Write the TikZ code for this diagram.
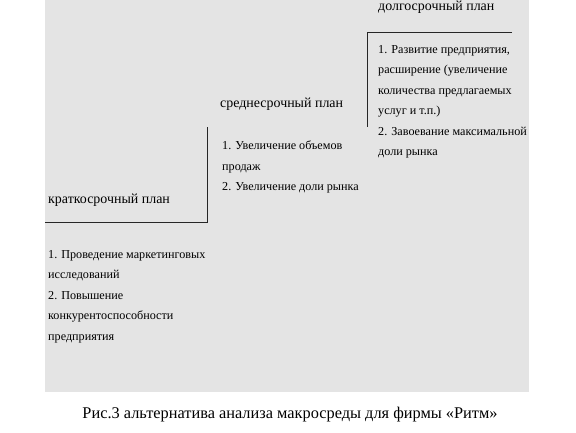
\documentclass[tikz,border=0pt]{standalone}
\usepackage{fontspec}
\setmainfont{Liberation Serif}
\usetikzlibrary{positioning}
\definecolor{sheetgray}{RGB}{228,228,228}

\begin{document}
\begin{tikzpicture}[x=1bp,y=-1bp,
    plan/.style={inner sep=0pt,anchor=base west,font=\fontsize{14}{16}\selectfont},
    goals/.style={inner sep=0pt,anchor=north west,align=left,
        font=\fontsize{12.2}{20.6}\selectfont},
    stair/.style={line width=0.9bp,black!85}]

\useasboundingbox (0,0) rectangle (576,432);
\fill[sheetgray] (45,0) rectangle (529,392);

% plan titles
\node[plan] (longP) at (378,10) {долгосрочный план};
\node[plan] (midP) at (220,107) {среднесрочный план};
\node[plan] (shortP) at (48,203) {краткосрочный план};

% goals of each plan
\node[goals] (longG) at (378,45) {1. Развитие предприятия,\\
    расширение (увеличение\\ количества предлагаемых\\ услуг и т.п.)\\
    2. Завоевание максимальной\\ доли рынка};
\node[goals] (midG) at (222,141) {1. Увеличение объемов\\ продаж\\
    2. Увеличение доли рынка};
\node[goals] (shortG) at (48,250) {1. Проведение маркетинговых\\
    исследований\\ 2. Повышение\\ конкурентоспособности\\ предприятия};

% steps
\coordinate (topR) at (512,32);
\coordinate (topL) at (367,32);
\coordinate (midR) at (367,127);
\coordinate (midL) at (207,127);
\coordinate (lowR) at (207,222);
\coordinate (lowL) at (45,222);
\draw[stair] (topR) -- (topL) -- (midR);
\draw[stair] (midL) -- (lowR) -- (lowL);

\node[anchor=base,inner sep=0pt,font=\fontsize{16.4}{19}\selectfont] (caption)
    at (290,418) {Рис.3 альтернатива анализа макросреды для фирмы «Ритм»};

\end{tikzpicture}
\end{document}
